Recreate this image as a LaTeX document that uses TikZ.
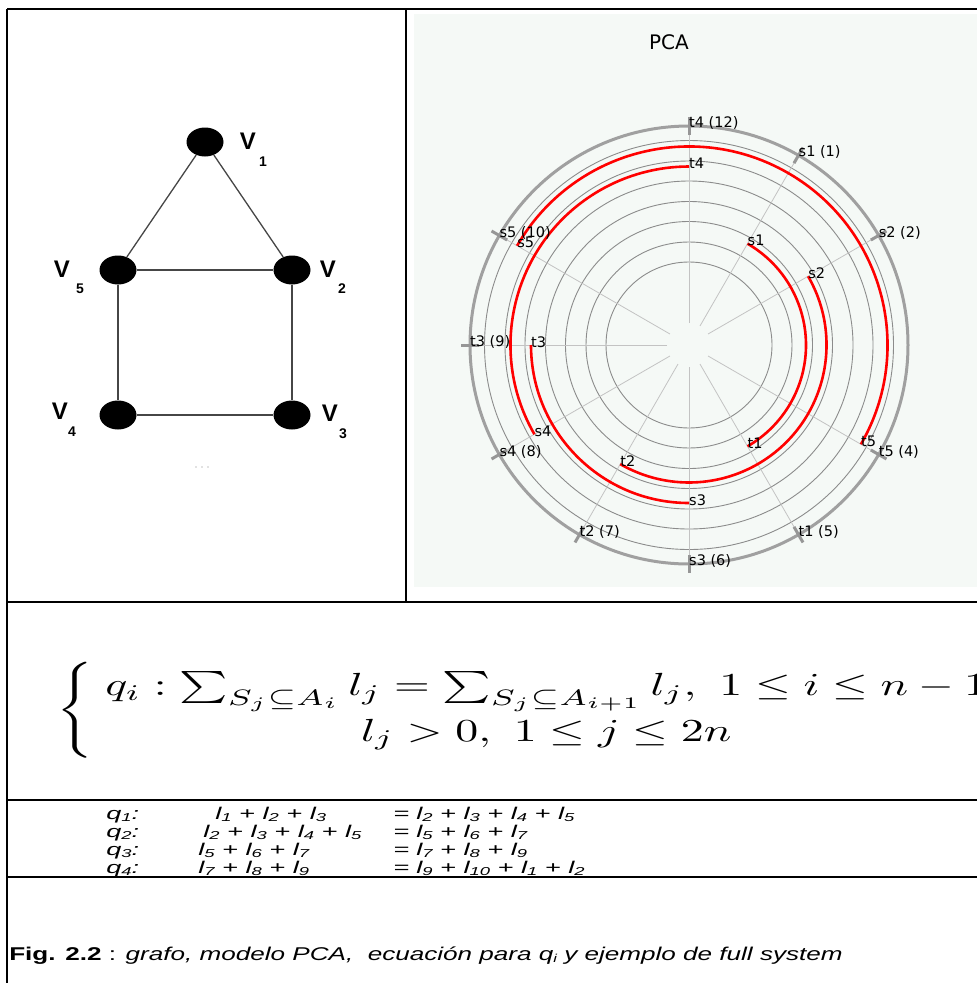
\documentclass[tikz,border=0pt]{standalone}
\usepackage{fontspec}
\usetikzlibrary{shapes.geometric}
\newfontfamily\dvs{DejaVu Sans}
\newfontfamily\lib{Liberation Sans}
\definecolor{pcabg}{RGB}{245,249,246}
\definecolor{ringgray}{RGB}{140,140,140}
\definecolor{spokegray}{RGB}{195,195,195}
\definecolor{outergray}{RGB}{160,160,160}
\definecolor{tickgray}{RGB}{150,150,150}
\definecolor{edgegray}{RGB}{70,70,70}
\newcommand\sbs[1]{\raisebox{-0.3ex}{\fontsize{11.5}{11.5}\selectfont #1}}
\begin{document}
\begin{tikzpicture}[x=1pt,y=1pt,
  tbl/.style={black,line width=1.4pt},
  vtx/.style={ellipse,fill=black,minimum width=37pt,minimum height=29pt,inner sep=0pt},
  gedge/.style={edgegray,line width=1.3pt},
  vname/.style={font=\lib\bfseries\fontsize{24}{24}\selectfont,inner sep=0pt},
  vsub/.style={font=\lib\bfseries\fontsize{14}{14}\selectfont,inner sep=0pt},
  ring/.style={ringgray,line width=0.9pt},
  spoke/.style={spokegray,line width=0.8pt},
  redarc/.style={red,line width=2.6pt},
  tickmark/.style={tickgray,line width=3pt},
  plab/.style={font=\dvs\fontsize{14.5}{16}\selectfont,anchor=west,inner sep=0pt,yshift=3pt},
  rowtxt/.style={font=\lib\itshape\fontsize{17}{17}\selectfont,inner sep=0pt,anchor=base west,xscale=1.6},
]
\useasboundingbox (0,0) rectangle (977,-983);
\fill[white] (0,0) rectangle (977,-983);
% PCA panel background
\fill[pcabg] (414,-14) rectangle (977,-587);
% table frame
\draw[tbl] (7,-9) -- (977,-9);
\draw[tbl] (7,-9) -- (7,-983);
\draw[tbl] (406,-9) -- (406,-602);
\draw[tbl] (7,-602) -- (977,-602);
\draw[tbl] (7,-800) -- (977,-800);
\draw[tbl] (7,-877) -- (977,-877);
% ---------------- graph ----------------
\node[vtx] (v1) at (205,-142) {};
\node[vtx] (v5) at (118,-270) {};
\node[vtx] (v2) at (292,-270) {};
\node[vtx] (v4) at (118,-415) {};
\node[vtx] (v3) at (292,-415) {};
\draw[gedge] (v1) -- (v5);
\draw[gedge] (v1) -- (v2);
\draw[gedge] (v5) -- (v2);
\draw[gedge] (v5) -- (v4);
\draw[gedge] (v2) -- (v3);
\draw[gedge] (v4) -- (v3);
\node[vname] (n1) at (248,-141) {V};
\node[vsub] (s1n) at (263,-162) {1};
\node[vname] (n5) at (62,-269) {V};
\node[vsub] (s5n) at (80,-289) {5};
\node[vname] (n2) at (328,-269) {V};
\node[vsub] (s2n) at (342,-289) {2};
\node[vname] (n4) at (60,-411) {V};
\node[vsub] (s4n) at (72,-432) {4};
\node[vname] (n3) at (330,-413) {V};
\node[vsub] (s3n) at (343,-434) {3};
\fill[gray!45] (196,-467) circle[radius=0.8] (202,-467) circle[radius=0.8] (208,-467) circle[radius=0.8];
% ---------------- PCA ----------------
\node[font=\dvs\fontsize{20}{22}\selectfont,inner sep=0pt] (title) at (669,-42) {PCA};
\begin{scope}[shift={(689,-345)}]
  \foreach \r in {83,103,123.5,143.5,164,184,204.5}
    \draw[ring] (0,0) circle[radius=\r];
  \foreach \a in {90,60,30,-30,-60,-90,-120,-150,180,150}
    \draw[spoke] (\a:22) -- (\a:219);
  \draw[outergray,line width=3pt] (0,0) circle[radius=219];
  \foreach \a in {90,60,30,-30,-60,-90,-120,-150,180,150}
    \draw[tickmark] (\a:210) -- (\a:228);
  % red arcs
  \draw[redarc] (60:117) arc[start angle=60,end angle=-60,radius=117];
  \draw[redarc] (30:137.5) arc[start angle=30,end angle=-120,radius=137.5];
  \draw[redarc] (-90:158) arc[start angle=-90,end angle=-180,radius=158];
  \draw[redarc] (-150:178.5) arc[start angle=-150,end angle=-270,radius=178.5];
  \draw[redarc] (-210:198.5) arc[start angle=-210,end angle=-390,radius=198.5];
  % outer labels
  \node[plab] (L12) at (90:219) {t4 (12)};
  \node[plab] (L1) at (60:219) {s1 (1)};
  \node[plab] (L2) at (30:219) {s2 (2)};
  \node[plab] (L4) at (-30:219) {t5 (4)};
  \node[plab] (L5) at (-60:219) {t1 (5)};
  \node[plab] (L6) at (-90:219) {s3 (6)};
  \node[plab] (L7) at (-120:219) {t2 (7)};
  \node[plab] (L8) at (-150:219) {s4 (8)};
  \node[plab] (L9) at (180:219) {t3 (9)};
  \node[plab] (L10) at (150:219) {s5 (10)};
  % inner labels
  \node[plab] (is1) at (60:117) {s1};
  \node[plab] (it1) at (-60:117) {t1};
  \node[plab] (is2) at (30:137.5) {s2};
  \node[plab] (it2) at (-120:137.5) {t2};
  \node[plab] (is3) at (-90:158) {s3};
  \node[plab] (it3) at (180:158) {t3};
  \node[plab] (is4) at (-150:178.5) {s4};
  \node[plab] (it4) at (90:178.5) {t4};
  \node[plab] (is5) at (150:198.5) {s5};
  \node[plab] (it5) at (-30:198.5) {t5};
\end{scope}
% ---------------- equation ----------------
\node[anchor=west,inner sep=0pt,xscale=4.59,yscale=3.2] (eq) at (56,-710)
  {\renewcommand\arraystretch{1.1}$\left\{\begin{array}{@{\hspace{2.5pt}}c@{}} q_i:\sum_{S_j\subseteq A_i} l_j=\sum_{S_j\subseteq A_{i+1}} l_j,\ 1\leq i\leq n-1\\ l_j>0,\ 1\leq j\leq 2n\end{array}\right.$};
% ---------------- rows ----------------
\node[rowtxt] (q1) at (106,-819) {q\sbs{1}:};
\node[rowtxt] (a1) at (215,-819) {l\sbs{1} + l\sbs{2} + l\sbs{3}};
\node[rowtxt] (e1) at (393,-819) {=};
\node[rowtxt] (b1) at (416,-819) {l\sbs{2} + l\sbs{3} + l\sbs{4} + l\sbs{5}};
\node[rowtxt] (q2) at (106,-837) {q\sbs{2}:};
\node[rowtxt] (a2) at (203,-837) {l\sbs{2} + l\sbs{3} + l\sbs{4} + l\sbs{5}};
\node[rowtxt] (e2) at (393,-837) {=};
\node[rowtxt] (b2) at (416,-837) {l\sbs{5} + l\sbs{6} + l\sbs{7}};
\node[rowtxt] (q3) at (106,-855) {q\sbs{3}:};
\node[rowtxt] (a3) at (198,-855) {l\sbs{5} + l\sbs{6} + l\sbs{7}};
\node[rowtxt] (e3) at (393,-855) {=};
\node[rowtxt] (b3) at (416,-855) {l\sbs{7} + l\sbs{8} + l\sbs{9}};
\node[rowtxt] (q4) at (106,-873) {q\sbs{4}:};
\node[rowtxt] (a4) at (198,-873) {l\sbs{7} + l\sbs{8} + l\sbs{9}};
\node[rowtxt] (e4) at (393,-873) {=};
\node[rowtxt] (b4) at (416,-873) {l\sbs{9} + l\sbs{10} + l\sbs{1} + l\sbs{2}};
% ---------------- caption ----------------
\node[anchor=base west,inner sep=0pt,xscale=1.41,font=\lib\fontsize{18.5}{18.5}\selectfont] (cap) at (9,-960)
  {\textbf{Fig. 2.2} : \textit{grafo, modelo PCA,\ \ ecuación para q\sbs{i} y ejemplo de full system}};
\end{tikzpicture}
\end{document}
